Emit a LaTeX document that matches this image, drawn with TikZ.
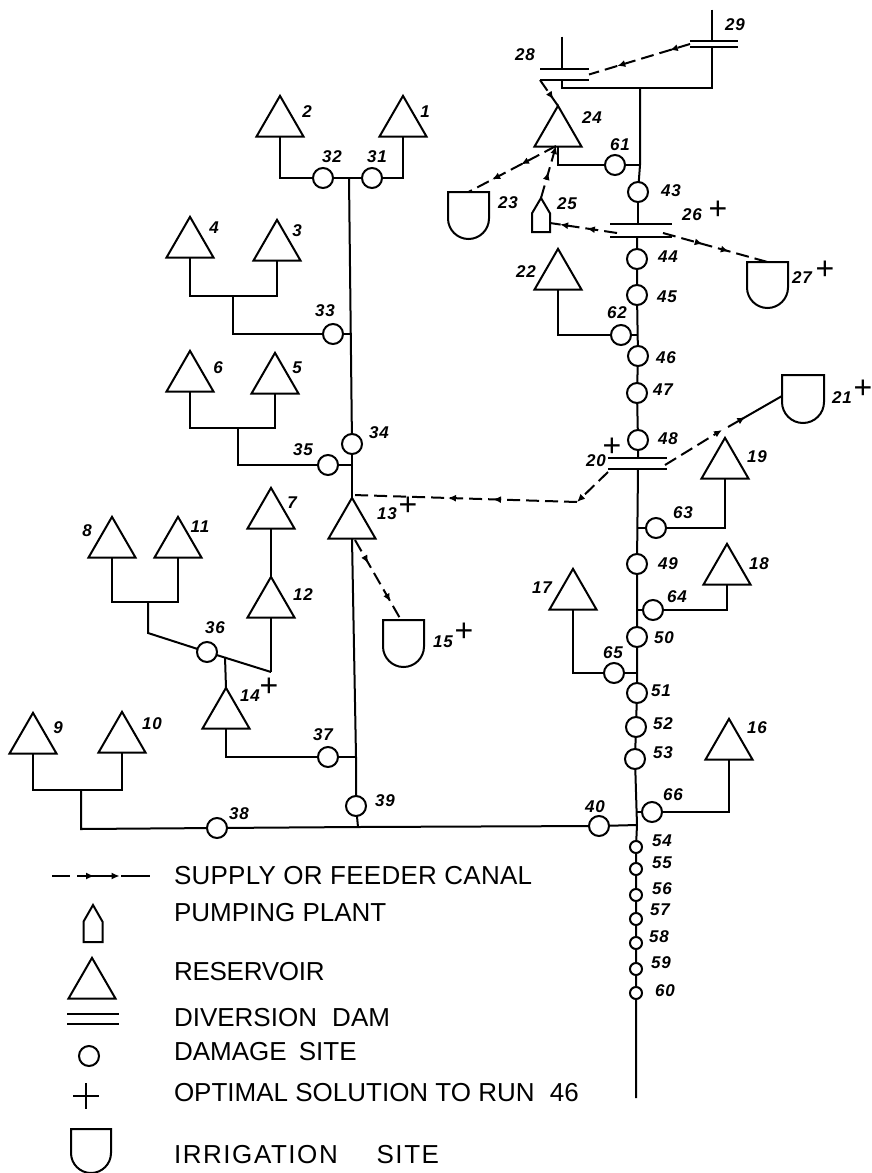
\documentclass[tikz,border=0pt]{standalone}
\usepackage{fontspec}
\setmainfont{Liberation Sans}
\newfontfamily\labfont[LetterSpace=6]{Liberation Sans}
\usetikzlibrary{shapes.geometric,decorations.markings,arrows.meta,calc}
\tikzset{
  x=1pt,y=-1pt,
  every path/.style={line width=2pt,line join=miter},
  reservoir/.style={regular polygon,regular polygon sides=3,minimum size=54.3pt,inner sep=0pt,outer sep=0pt,draw,line width=2pt},
  site/.style={circle,minimum size=20pt,inner sep=0pt,outer sep=0pt,draw,fill=white,line width=2pt},
  smallsite/.style={circle,minimum size=12pt,inner sep=0pt,outer sep=0pt,draw,fill=white,line width=2pt},
  damnode/.style={rectangle,inner sep=0pt,outer sep=0pt},
  lab/.style={font=\labfont\bfseries\itshape\fontsize{17}{17}\selectfont,inner sep=0pt},
  plusmark/.style={font=\fontsize{32}{32}\selectfont,inner sep=0pt},
  legtext/.style={font=\fontsize{26}{26}\selectfont,inner sep=0pt,anchor=west},
  canal/.style={line width=2pt,dash pattern=on 13pt off 6pt},
  onemark/.style={postaction={decorate},decoration={markings,
     mark=at position #1 with {\arrow{Latex[length=8pt,width=7pt]}}}},
  twomarks/.style 2 args={postaction={decorate},decoration={markings,
     mark=at position #1 with {\arrow{Latex[length=8pt,width=7pt]}},
     mark=at position #2 with {\arrow{Latex[length=8pt,width=7pt]}}}},
}
\newcommand\Resv[3]{\node[reservoir] (t#1) at (#2,#3+27) {};}
\newcommand\Dsite[3]{\node[site] (c#1) at (#2,#3) {};}
\newcommand\Ssite[3]{\node[smallsite] (c#1) at (#2,#3) {};}
\newcommand\Lab[3]{\node[lab] (l#3) at (#1,#2) {#3};}
\newcommand\Plus[3]{\node[plusmark] (plus#1) at (#2,#3) {+};}
% name, centre x, top y, width, height
\newcommand\Irr[5]{%
  \node[damnode,minimum width=#4pt,minimum height=#5pt,anchor=north] (#1) at (#2,#3) {};
  \draw[line join=miter] (#1.north west) -- (#1.north east) -- ++(0,{#5-#4/2})
     .. controls +(0,{0.55*#4/2}) and ($(#1.south)+({0.55*#4/2},0)$) .. (#1.south)
     .. controls +({-0.55*#4/2},0) and ($(#1.south west)+(0,{0.55*#4/2-#4/2})$) .. ($(#1.south west)+(0,{-#4/2})$)
     -- cycle;}
% name, centre x, top y, width, height
\newcommand\Pump[5]{%
  \node[damnode,minimum width=#4pt,minimum height=#5pt,anchor=north] (#1) at (#2,#3) {};
  \draw (#1.north) -- ($(#1.north east)+(0,{#5*0.45})$) -- (#1.south east) -- (#1.south west)
     -- ($(#1.north west)+(0,{#5*0.45})$) -- cycle;}
\newcommand\Dam[5]{%
  \node[damnode,minimum width=#4pt,minimum height=#5pt] (#1) at (#2,#3) {};
  \draw (#1.north west) -- (#1.north east);
  \draw (#1.south west) -- (#1.south east);}
\begin{document}
\begin{tikzpicture}
\useasboundingbox (0,0) rectangle (871,1173);
% Reservoirs
\Resv{2}{280}{96}\Resv{1}{403}{96}\Resv{4}{190}{217}\Resv{3}{277}{220}
\Resv{6}{190}{351}\Resv{5}{275}{353}\Resv{7}{271}{488}\Resv{12}{271}{577}
\Resv{8}{112}{517}\Resv{11}{178}{517}\Resv{14}{226}{688}\Resv{9}{33}{713}
\Resv{10}{122}{712}\Resv{13}{352}{498}\Resv{24}{558}{106}\Resv{22}{558}{249}
\Resv{19}{725}{438}\Resv{18}{727}{544}\Resv{17}{573}{569}\Resv{16}{729}{719}
% Damage sites
\Dsite{32}{323}{178}\Dsite{31}{372}{178}\Dsite{33}{333}{334}\Dsite{34}{352}{444}
\Dsite{35}{328}{465}\Dsite{36}{207}{652}\Dsite{37}{328}{757}\Dsite{39}{356}{806}
\Dsite{38}{217}{828}\Dsite{40}{599}{826}
\Dsite{61}{615}{165}\Dsite{43}{638}{192}\Dsite{44}{637}{259}\Dsite{45}{637}{295}
\Dsite{62}{621}{335}\Dsite{46}{638}{356}\Dsite{47}{637}{393}\Dsite{48}{638}{440}
\Dsite{63}{656}{528}\Dsite{49}{637}{564}\Dsite{64}{653}{610}\Dsite{50}{637}{637}
\Dsite{65}{614}{673}\Dsite{51}{637}{693}\Dsite{52}{636}{727}\Dsite{53}{635}{759}
\Dsite{66}{652}{812}
\Ssite{54}{636}{847}\Ssite{55}{636}{869}\Ssite{56}{636}{895}\Ssite{57}{636}{919}
\Ssite{58}{636}{943}\Ssite{59}{636}{969}\Ssite{60}{636}{993}
% Dams
\Dam{d29}{714}{44}{48}{6}
\Dam{d28}{564.5}{74.5}{49}{11}
\Dam{d26}{641}{230.5}{62}{13}
\Dam{d20}{637.5}{463.5}{59}{11}
\node[damnode,minimum width=0pt] (d29top) at (712,9) {};
\node[damnode,minimum width=0pt] (d28top) at (562,36) {};
% Irrigation sites
\Irr{i23}{468.5}{192}{41}{47}
\Irr{i27}{767.5}{262}{41}{46}
\Irr{i21}{803}{375}{42}{48}
\Irr{i15}{403.5}{620}{41}{47}
% Pumping plant
\Pump{p25}{541}{198}{18}{34}
% Junction points
\coordinate (j1) at (349,178);
\coordinate (j33) at (351,334);
\coordinate (j35) at (352,465);
\coordinate (j37) at (356,757);
\coordinate (j38) at (358,827);
\coordinate (j40) at (637,825);
\coordinate (j61) at (640,165);
\coordinate (jtop) at (640,88);
\coordinate (j62) at (638,335);
\coordinate (j63) at (637,528);
\coordinate (j64) at (637,610);
\coordinate (j65) at (637,673);
\coordinate (j66) at (637,812);
\coordinate (rend) at (636,1098);
\coordinate (b43m) at (233,296);
\coordinate (b65m) at (238,428);
\coordinate (b811m) at (148,602);
\coordinate (k36) at (148,633);
\coordinate (k12) at (271,672);
\coordinate (k14) at (225,657);
\coordinate (b910m) at (81,790);
\coordinate (k38) at (81,829);
% Connectors, left river
\draw (t2.side 2) |- (c32);
\draw (t1.side 2) |- (c31);
\draw (c32) -- (c31);
\draw (j1) -- (c34);
\draw (c33) -- (j33);
\draw (c35) -- (j35);
\draw (c34) -- (t13.corner 1);
\draw (t4.side 2) |- (b43m) -| (t3.side 2);
\draw (b43m) |- (c33);
\draw (t6.side 2) |- (b65m) -| (t5.side 2);
\draw (b65m) |- (c35);
\draw (t7.side 2) -- (t12.corner 1);
\draw (t8.side 2) |- (b811m) -| (t11.side 2);
\draw (b811m) -- (k36) -- (c36);
\draw (c36) -- (k12);
\draw (t12.side 2) -- (k12);
\draw (k14) -- (t14.corner 1);
\draw (t14.side 2) |- (c37);
\draw (c37) -- (j37);
\draw (t13.side 2) -- (j37) -- (c39) -- (j38);
\draw (t9.side 2) |- (b910m) -| (t10.side 2);
\draw (b910m) -- (k38) -- (c38);
\draw (c38) -- (j38) -- (c40) -- (j40);
% Connectors, right river
\draw (d28top) -- (d28top |- d28.north);
\draw (d29top) -- (d29top |- d29.north);
\draw (d28top |- d28.south) -- (d28top |- jtop) -- (jtop) -- (jtop -| d29top) -- (d29top |- d29.south);
\draw (jtop) -- (j61) -- (c43);
\draw (t24.side 2) |- (c61);
\draw (c61) -- (j61);
\draw (c43) -- (c43 |- d26.north);
\draw (c44 |- d26.south) -- (c44) -- (c45) -- (c46) -- (c47) -- (c48) -- (c48 |- d20.north);
\draw (t22.side 2) |- (c62);
\draw (c62) -- (j62);
\draw (c48 |- d20.south) -- (c49) -- (c50) -- (c51) -- (c52) -- (c53) -- (j40)
   -- (c54) -- (c55) -- (c56) -- (c57) -- (c58) -- (c59) -- (c60) -- (rend);
\draw (t19.side 2) |- (c63);
\draw (c63) -- (j63);
\draw (t18.side 2) |- (c64);
\draw (c64) -- (j64);
\draw (t17.side 2) |- (c65);
\draw (c65) -- (j65);
\draw (t16.side 2) |- (c66);
\draw (c66) -- (j66);
% Canals
\coordinate (ca1) at (556,146);
\coordinate (ca2) at (617,233);
\coordinate (ca3) at (663,233);
\coordinate (ca4) at (550,223);
\coordinate (cg0) at (353,495);
\coordinate (cg1) at (577,502);
\coordinate (cg2) at (608,472);
\coordinate (ch1) at (665,465);
\coordinate (ch2) at (722,430);
\coordinate (ch3) at (728,427);
\coordinate (ch4) at (782,396);
\coordinate (cs) at (355,540);
\coordinate (cs2) at (401,620);
\draw[canal,twomarks={0.2}{0.72}] (d29.west) -- (d28.east);
\draw[canal,onemark=0.75] (d28.south west) -- (t24.corner 1);
\draw[canal,twomarks={0.4}{0.73}] (ca1) -- (i23.north);
\draw[canal,onemark=0.5,-{Latex[length=8pt,width=7pt]}] (p25.north) -- (ca1);
\draw[canal,twomarks={0.45}{0.85}] (ca2) -- (ca4);
\draw[canal,twomarks={0.38}{0.63}] (ca3) -- (i27.north);
\draw[canal,-{Latex[length=8pt,width=7pt]}] (cg2) -- (cg1);
\draw[canal,twomarks={0.375}{0.576}] (cg1) -- (cg0);
\draw[canal,-{Latex[length=8pt,width=7pt]}] (ch1) -- (ch2);
\draw[onemark=0.32] (ch3) -- (ch4);
\draw[canal,twomarks={0.29}{0.77}] (cs) -- (cs2);
% Labels
\Lab{307}{112}{2}\Lab{425}{112}{1}\Lab{332}{157}{32}\Lab{377}{157}{31}
\Lab{214}{228}{4}\Lab{297}{231}{3}\Lab{325}{311}{33}\Lab{218}{368}{6}
\Lab{297}{368}{5}\Lab{379}{433}{34}\Lab{303}{450}{35}\Lab{292}{503}{7}
\Lab{387}{514}{13}\Lab{87}{531}{8}\Lab{200}{527}{11}\Lab{303}{595}{12}
\Lab{215}{628}{36}\Lab{250}{696}{14}\Lab{58}{728}{9}\Lab{152}{724}{10}
\Lab{323}{735}{37}\Lab{385}{801}{39}\Lab{239}{814}{38}\Lab{443}{642}{15}
\Lab{525}{55}{28}\Lab{735}{25}{29}\Lab{592}{118}{24}\Lab{620}{145}{61}
\Lab{671}{191}{43}\Lab{508}{203}{23}\Lab{567}{204}{25}\Lab{692}{215}{26}
\Lab{668}{257}{44}\Lab{667}{297}{45}\Lab{526}{272}{22}\Lab{617}{313}{62}
\Lab{802}{278}{27}\Lab{666}{358}{46}\Lab{663}{390}{47}\Lab{668}{439}{48}
\Lab{596}{461}{20}\Lab{842}{398}{21}\Lab{757}{457}{19}\Lab{683}{513}{63}
\Lab{668}{564}{49}\Lab{759}{564}{18}\Lab{677}{597}{64}\Lab{664}{638}{50}
\Lab{542}{588}{17}\Lab{613}{653}{65}\Lab{661}{691}{51}\Lab{663}{724}{52}
\Lab{663}{753}{53}\Lab{757}{728}{16}\Lab{673}{795}{66}\Lab{595}{807}{40}
\Lab{662}{841}{54}\Lab{662}{863}{55}\Lab{662}{889}{56}\Lab{660}{910}{57}
\Lab{659}{937}{58}\Lab{661}{963}{59}\Lab{665}{991}{60}
% Plus marks
\Plus{13}{408}{506}\Plus{14}{269}{687}\Plus{15}{464}{632}\Plus{26}{718}{210}
\Plus{27}{825}{270}\Plus{20}{612}{447}\Plus{21}{863}{389}
% Legend
\coordinate (lc1) at (52,876);
\coordinate (lc2) at (150,876);
\draw[dash pattern=on 18pt off 7pt on 37pt off 7pt on 30pt off 0pt,twomarks={0.43}{0.69}] (lc1) -- (lc2);
\Pump{lp}{93}{905}{19}{37}
\node[reservoir] (lt) at (92,985) {};
\Dam{ld}{93}{1019}{52}{10}
\node[site] (lc) at (89,1056) {};
\node[damnode,minimum width=26pt,minimum height=26pt] (lplus) at (86,1096) {};
\draw (lplus.north) -- (lplus.south);
\draw (lplus.west) -- (lplus.east);
\Irr{li}{91}{1129}{40}{44}
\node[legtext] (t1leg) at (173,876) {\addfontfeatures{LetterSpace=1}SUPPLY OR FEEDER CANAL};
\node[legtext] (t2leg) at (173,913) {PUMPING PLANT};
\node[legtext] (t3leg) at (173,972) {\addfontfeatures{LetterSpace=-1}RESERVOIR};
\node[legtext] (t4leg) at (173,1018) {DIVERSION\hspace{8pt} DAM};
\node[legtext] (t5leg) at (173,1052) {DAMAGE\hspace{5pt} SITE};
\node[legtext] (t6leg) at (173,1093) {OPTIMAL SOLUTION TO RUN\hspace{8pt} 46};
\node[legtext] (t7leg) at (173,1155) {\addfontfeatures{LetterSpace=6}IRRIGATION\hspace{30pt} SITE};
\end{tikzpicture}
\end{document}
